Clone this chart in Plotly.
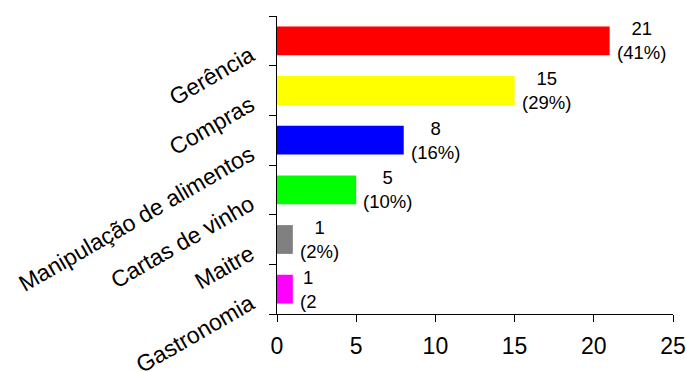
import plotly.graph_objects as go

# Categories listed bottom-to-top, as Plotly draws horizontal bars
categories = ["Gastronomia", "Maitre", "Cartas de vinho",
              "Manipulação de alimentos", "Compras", "Gerência"]
counts = [1, 1, 5, 8, 15, 21]
percent_labels = ["(2", "(2%)", "(10%)", "(16%)", "(29%)", "(41%)"]
bar_colors = ["#ff00ff", "#808080", "#00ff00", "#0000ff", "#ffff00", "#ff0000"]
x_ticks = [0, 5, 10, 15, 20, 25]

font_family = "Arial, Liberation Sans, sans-serif"

fig = go.Figure(
    go.Bar(
        x=counts,
        y=categories,
        orientation="h",
        marker=dict(color=bar_colors, line=dict(width=0)),
        width=0.58,
        hoverinfo="x+y",
    )
)

# Count and share printed just past the end of each bar
for cat, cnt, pct in zip(categories, counts, percent_labels):
    fig.add_annotation(
        x=cnt,
        y=cat,
        text=f"{cnt}<br>{pct}",
        showarrow=False,
        xanchor="left",
        yanchor="middle",
        align="center",
        xshift=5,
        font=dict(family=font_family, size=18.5, color="black"),
    )

fig.update_layout(
    width=687,
    height=372,
    margin=dict(l=277, r=14, t=16, b=58, autoexpand=False),
    paper_bgcolor="white",
    plot_bgcolor="white",
    showlegend=False,
    font=dict(family=font_family, color="black"),
)

fig.update_xaxes(
    range=[0, 25],
    tickvals=x_ticks,
    ticks="outside",
    ticklen=7,
    tickcolor="black",
    showline=True,
    linecolor="black",
    linewidth=1,
    showgrid=False,
    zeroline=False,
    automargin=False,
    ticklabelstandoff=4,
    tickfont=dict(size=23, color="black"),
)

fig.update_yaxes(
    range=[-0.5, 5.5],
    tickson="boundaries",
    ticks="outside",
    ticklen=7,
    tickcolor="black",
    tickangle=-30,
    showline=True,
    linecolor="black",
    linewidth=1,
    showgrid=False,
    zeroline=False,
    automargin=False,
    ticklabelstandoff=21,
    ticklabelshift=12,
    tickfont=dict(size=23, color="black"),
)

fig.write_html("out.html")
